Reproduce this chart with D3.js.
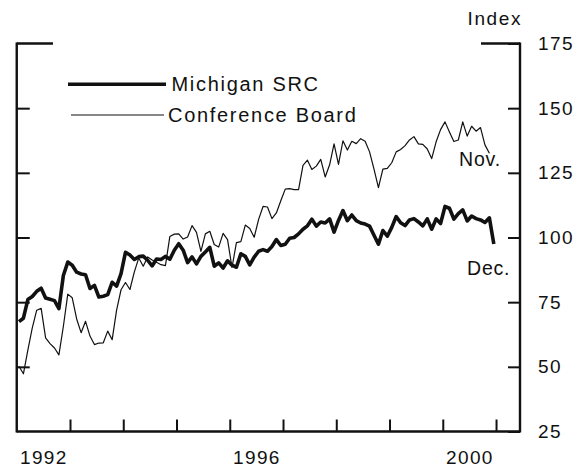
<!DOCTYPE html>
<html>
<head>
<meta charset="utf-8">
<script src="https://cdn.jsdelivr.net/npm/d3@7"></script>
<style>
  html, body { margin: 0; padding: 0; background: #fff; }
  svg { display: block; font-family: "Liberation Sans", Arial, Helvetica, sans-serif; }
</style>
</head>
<body>
<div id="chart"></div>
<script>
// monthly index values, Jan 1992 onward
const michigan = [
  67.5, 68.8, 76.0, 77.2, 79.2, 80.4, 76.6, 76.1, 75.6, 72.5, 85.3, 90.5,
  89.3, 86.6, 85.9, 85.6, 80.3, 81.5, 77.0, 77.3, 77.9, 82.7, 81.2, 86.0,
  94.3, 93.2, 91.5, 92.6, 92.8, 91.2, 89.0, 91.7, 91.5, 92.7, 91.6, 95.1,
  97.6, 95.1, 90.3, 92.5, 89.8, 92.7, 94.4, 96.2, 88.9, 90.2, 88.2, 91.0,
  89.3, 88.5, 93.7, 92.7, 89.4, 92.4, 94.7, 95.3, 94.7, 96.5, 99.2, 96.9,
  97.4, 99.7, 100.0, 101.4, 103.2, 104.5, 107.1, 104.4, 106.0, 105.6, 107.2, 102.1,
  106.6, 110.4, 106.5, 108.7, 106.5, 105.6, 105.2, 104.4, 100.9, 97.4, 102.7, 100.5,
  103.9, 108.1, 105.7, 104.6, 106.8, 107.3, 106.0, 104.5, 107.2, 103.2, 107.2, 105.4,
  112.0, 111.3, 107.1, 109.2, 110.7, 106.4, 108.3, 107.3, 106.8, 105.8, 107.6, 97.5
];
const conference = [
  50.2, 47.3, 56.5, 65.1, 71.9, 72.6, 61.2, 59.0, 57.3, 54.6, 65.6, 78.1,
  76.7, 68.5, 63.2, 67.6, 61.9, 58.6, 59.2, 59.3, 63.8, 60.5, 71.9, 79.8,
  82.6, 79.9, 86.7, 92.1, 88.9, 92.5, 91.3, 90.4, 89.5, 89.1, 100.4, 101.3,
  101.4, 99.4, 100.2, 104.6, 102.0, 94.6, 101.4, 102.4, 97.3, 96.3, 101.6, 99.2,
  88.4, 98.0, 98.4, 104.8, 103.5, 100.1, 107.0, 112.0, 111.8, 107.3, 109.5, 114.2,
  118.7, 118.9, 118.5, 118.5, 127.9, 129.9, 126.3, 127.6, 130.2, 123.4, 128.1, 136.2,
  128.3, 137.4, 133.8, 137.2, 136.3, 138.2, 137.2, 133.1, 126.4, 119.3, 126.4, 126.7,
  128.9, 133.1, 134.0, 135.5, 137.7, 139.0, 136.2, 136.0, 134.2, 130.5, 137.0, 141.7,
  144.7, 140.8, 137.1, 137.7, 144.7, 139.2, 143.0, 141.1, 142.5, 135.8, 132.6
];
const startYear = 1992;
const seriesNames = ['Michigan SRC', 'Conference Board'];
const endLabels = ['Dec.', 'Nov.'];
const yTicks = [25, 50, 75, 100, 125, 150, 175];
const yearTicks = [1993, 1994, 1995, 1996, 1997, 1998, 1999, 2000, 2001];
const yearLabels = [1992, 1996, 2000];

(() => {
  const W = 576, H = 468;
  const pL = 16.75, pR = 520, pT = 43.5, pB = 431.5;

  const x = d3.scaleLinear().domain([1992, 2001.45]).range([pL, pR]);
  const y = d3.scaleLinear().domain([25, 175]).range([pB, pT]);

  const svg = d3.select('#chart').append('svg')
    .attr('width', W).attr('height', H);

  const toPts = vals => vals.map((v, i) => ({ t: startYear + (i + 0.5) / 12, v }));
  const line = d3.line().x(d => x(d.t)).y(d => y(d.v));

  // frame
  const frame = svg.append('g').attr('stroke', '#111').attr('stroke-width', 2.4).attr('fill', 'none');
  frame.append('line').attr('x1', pL).attr('x2', pL).attr('y1', pT - 1).attr('y2', pB + 1);
  frame.append('line').attr('x1', pR).attr('x2', pR).attr('y1', pT - 1).attr('y2', pB + 1);
  frame.append('line').attr('x1', pL).attr('x2', pR).attr('y1', pB).attr('y2', pB);
  frame.append('line').attr('x1', pL).attr('x2', 53).attr('y1', pT).attr('y2', pT);
  frame.append('line').attr('x1', 481).attr('x2', pR).attr('y1', pT).attr('y2', pT);

  // right axis with labels
  const yRight = svg.append('g')
    .attr('transform', `translate(${pR},0)`)
    .call(d3.axisRight(y).tickValues(yTicks).tickSize(-12).tickPadding(18).tickFormat(d3.format('d')));
  // left axis, ticks only
  const yLeft = svg.append('g')
    .attr('transform', `translate(${pL},0)`)
    .call(d3.axisLeft(y).tickValues(yTicks.slice(1, -1)).tickSize(-13).tickFormat(''));
  // bottom ticks (year starts)
  const xTickG = svg.append('g')
    .attr('transform', `translate(0,${pB})`)
    .call(d3.axisBottom(x).tickValues(yearTicks).tickSize(-12).tickFormat(''));
  // bottom labels (mid-year)
  const xLabG = svg.append('g')
    .attr('transform', `translate(0,${pB})`)
    .call(d3.axisBottom(x).tickValues(yearLabels.map(d => d + 0.5)).tickSize(0).tickPadding(19)
      .tickFormat(d => String(Math.floor(d))));

  [yRight, yLeft, xTickG, xLabG].forEach(g => {
    g.select('.domain').remove();
    g.selectAll('line').attr('stroke', '#111').attr('stroke-width', 2);
    g.selectAll('text')
      .attr('fill', '#111')
      .style('font-size', '19px')
      .style('letter-spacing', '1.4px')
      .style('font-family', '"Liberation Sans", Arial, sans-serif');
  });

  svg.append('text')
    .attr('x', 522).attr('y', 25)
    .attr('text-anchor', 'end')
    .attr('fill', '#111')
    .style('font-size', '19px')
    .style('letter-spacing', '1.6px')
    .text('Index');

  // series
  svg.append('path')
    .datum(toPts(conference))
    .attr('d', line)
    .attr('fill', 'none')
    .attr('stroke', '#111')
    .attr('stroke-width', 1.2)
    .attr('stroke-linejoin', 'round');

  svg.append('path')
    .datum(toPts(michigan))
    .attr('d', line)
    .attr('fill', 'none')
    .attr('stroke', '#111')
    .attr('stroke-width', 3.6)
    .attr('stroke-linejoin', 'round');

  // legend
  const legend = svg.append('g').attr('fill', '#111').style('font-size', '20px').style('letter-spacing', '1.7px');
  legend.append('line').attr('x1', 68).attr('x2', 166).attr('y1', 84.3).attr('y2', 84.3)
    .attr('stroke', '#111').attr('stroke-width', 3.6);
  legend.append('text').attr('x', 171.5).attr('y', 90.5).text(seriesNames[0]);
  legend.append('line').attr('x1', 71).attr('x2', 164).attr('y1', 115).attr('y2', 115)
    .attr('stroke', '#111').attr('stroke-width', 1.2);
  legend.append('text').attr('x', 168).attr('y', 121.5).text(seriesNames[1]);

  // end-of-series labels
  const endG = svg.append('g').attr('fill', '#111').style('font-size', '19.5px').style('letter-spacing', '0.8px');
  endG.append('text').attr('x', 467).attr('y', 275).text(endLabels[0]);
  endG.append('text').attr('x', 459).attr('y', 166).text(endLabels[1]);
})();
</script>
</body>
</html>
